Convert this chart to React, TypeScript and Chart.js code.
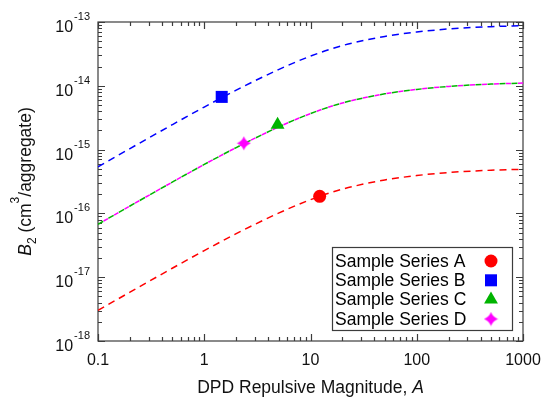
import React, { useEffect, useRef } from 'react';
import { Chart, registerables } from 'chart.js';
import { drawPoint } from 'chart.js/helpers';

Chart.register(...registerables);

// ---------- data ----------
const xValues = [0.1, 0.2, 0.5, 1, 2, 5, 10, 20, 50, 100, 200, 500, 1000];
const fitA = [3.02e-18, 5.83e-18, 1.38e-17, 2.61e-17, 4.81e-17, 1.009e-16, 1.64e-16, 2.4e-16, 3.34e-16, 3.92e-16, 4.38e-16, 4.75e-16, 4.92e-16];
const fitB = [5.37e-16, 1.038e-15, 2.455e-15, 4.645e-15, 8.55e-15, 1.795e-14, 2.917e-14, 4.276e-14, 5.94e-14, 6.97e-14, 7.78e-14, 8.45e-14, 8.75e-14];
const fitC = [6.76e-17, 1.306e-16, 3.09e-16, 5.85e-16, 1.076e-15, 2.26e-15, 3.67e-15, 5.38e-15, 7.48e-15, 8.77e-15, 9.79e-15, 1.064e-14, 1.102e-14];
const fitD = [6.76e-17, 1.306e-16, 3.09e-16, 5.85e-16, 1.076e-15, 2.26e-15, 3.67e-15, 5.38e-15, 7.48e-15, 8.77e-15, 9.79e-15, 1.064e-14, 1.102e-14];

const seriesLabels = ['Sample Series A', 'Sample Series B', 'Sample Series C', 'Sample Series D'];
const pointX = [12.2, 1.46, 4.9, 2.36];
const pointY = [1.85e-16, 6.7e-15, 2.45e-15, 1.26e-15];

const xTickValues = [0.1, 1, 10, 100, 1000];
const xTickLabels = ['0.1', '1', '10', '100', '1000'];
const yTickExponents = [-18, -17, -16, -15, -14, -13];

const xTitle = 'DPD Repulsive Magnitude, ';
const xTitleItalic = 'A';

const FONT = '"Liberation Sans", Arial, Helvetica, sans-serif';
const COLORS = ['#ff0000', '#0000ff', '#00b400', '#ff00ff'];

function makeStar(color: string) {
  const c = document.createElement('canvas');
  c.width = 15;
  c.height = 15;
  const g = c.getContext('2d')!;
  g.fillStyle = color;
  g.beginPath();
  const cx = 7.5, cy = 7.5, R = 7, k = 1.9;
  const tips = [[0, -R], [R, 0], [0, R], [-R, 0]];
  const ctrl = [[k, -k], [k, k], [-k, k], [-k, -k]];
  g.moveTo(cx + tips[0][0], cy + tips[0][1]);
  for (let i = 0; i < 4; i++) {
    const n = tips[(i + 1) % 4];
    g.quadraticCurveTo(cx + ctrl[i][0], cy + ctrl[i][1], cx + n[0], cy + n[1]);
  }
  g.closePath();
  g.fill();
  return c;
}

export default function App() {
  const ref = useRef<HTMLCanvasElement>(null);

  useEffect(() => {
    const canvas = ref.current!;
    const star = makeStar(COLORS[3]);
    const pointStyles: any[] = ['circle', 'rect', 'triangle', star];
    const pointRadii = [6.5, 8.5, 8, 7];

    const markerSets = seriesLabels.map((label, i) => ({
      label,
      data: [{ x: pointX[i], y: pointY[i] }],
      showLine: false,
      pointStyle: pointStyles[i],
      pointRadius: pointRadii[i],
      pointBorderWidth: 0,
      backgroundColor: COLORS[i],
      borderColor: COLORS[i],
      order: i,
    }));

    const fits = [fitA, fitB, fitD, fitC];
    const fitColors = [COLORS[0], COLORS[1], COLORS[3], COLORS[2]];
    const dashes = [[7, 5], [7, 5], [5, 7], [6, 6]];
    const offsets = [0, 0, -6.5, 0];
    const lineSets = fits.map((arr, i) => ({
      label: 'fit' + i,
      data: xValues.map((x, j) => ({ x, y: arr[j] })),
      showLine: true,
      pointRadius: 0,
      borderColor: fitColors[i],
      backgroundColor: fitColors[i],
      borderWidth: 1.5,
      borderDash: dashes[i],
      borderDashOffset: offsets[i],
      cubicInterpolationMode: 'monotone',
      order: 10 + i,
    }));

    const framePlugin = {
      id: 'framePlugin',
      beforeDatasetsDraw(chart: any) {
        const { ctx, chartArea: a, scales } = chart;
        const xs = scales.x, ys = scales.y;
        ctx.save();
        ctx.strokeStyle = '#3c3c3c';
        ctx.lineWidth = 1.2;
        ctx.beginPath();
        for (let e = -1; e <= 3; e++) {
          for (let m = 1; m <= 9; m++) {
            const v = m * Math.pow(10, e);
            if (v > 1000.0001) break;
            const px = Math.round(xs.getPixelForValue(v)) + 0.5;
            const len = m === 1 ? 7 : 4;
            ctx.moveTo(px, a.bottom);
            ctx.lineTo(px, a.bottom - len);
            ctx.moveTo(px, a.top);
            ctx.lineTo(px, a.top + len);
          }
        }
        for (let e = -18; e <= -13; e++) {
          for (let m = 1; m <= 9; m++) {
            const v = m * Math.pow(10, e);
            if (v > 1.0001e-13) break;
            const py = Math.round(ys.getPixelForValue(v)) + 0.5;
            const len = m === 1 ? 7 : 4;
            ctx.moveTo(a.left, py);
            ctx.lineTo(a.left + len, py);
            ctx.moveTo(a.right, py);
            ctx.lineTo(a.right - len, py);
          }
        }
        ctx.stroke();
        ctx.strokeRect(a.left, a.top, a.right - a.left, a.bottom - a.top);

        // tick labels
        ctx.fillStyle = '#111';
        ctx.textBaseline = 'alphabetic';
        ctx.font = `16px ${FONT}`;
        ctx.textAlign = 'center';
        xTickValues.forEach((v, i) => {
          ctx.fillText(xTickLabels[i], xs.getPixelForValue(v), 365);
        });
        ctx.textAlign = 'left';
        yTickExponents.forEach((e) => {
          const py = ys.getPixelForValue(Math.pow(10, e));
          ctx.font = `16px ${FONT}`;
          const wb = ctx.measureText('10').width;
          ctx.font = `11px ${FONT}`;
          const we = ctx.measureText(String(e)).width;
          const x0 = 90 - we - wb - 1;
          ctx.font = `16px ${FONT}`;
          ctx.fillText('10', x0, py + 10);
          ctx.font = `11px ${FONT}`;
          ctx.fillText(String(e), x0 + wb + 1, py - 2);
        });

        // x title
        ctx.font = `17.5px ${FONT}`;
        const w1 = ctx.measureText(xTitle).width;
        ctx.font = `italic 17.5px ${FONT}`;
        const w2 = ctx.measureText(xTitleItalic).width;
        const cx = (a.left + a.right) / 2;
        const tx = cx - (w1 + w2) / 2;
        ctx.font = `17.5px ${FONT}`;
        ctx.fillText(xTitle, tx, 393);
        ctx.font = `italic 17.5px ${FONT}`;
        ctx.fillText(xTitleItalic, tx + w1, 393);

        // y title (rotated)
        const parts: [string, string, number][] = [
          ['B', `italic 17.5px ${FONT}`, 0],
          ['2', `12px ${FONT}`, 5],
          [' (cm', `17.5px ${FONT}`, 0],
          ['3', `12px ${FONT}`, -12],
          ['/aggregate)', `17.5px ${FONT}`, 0],
        ];
        let total = 0;
        const widths = parts.map(([t, f]) => {
          ctx.font = f;
          const w = ctx.measureText(t).width;
          total += w;
          return w;
        });
        ctx.save();
        ctx.translate(31, (a.top + a.bottom) / 2);
        ctx.rotate(-Math.PI / 2);
        let px = -total / 2;
        parts.forEach(([t, f, dy], i) => {
          ctx.font = f;
          ctx.fillText(t, px, dy);
          px += widths[i];
        });
        ctx.restore();
        ctx.restore();
      },
      afterDraw(chart: any) {
        const { ctx } = chart;
        ctx.save();
        ctx.fillStyle = '#fff';
        ctx.fillRect(332.5, 247.5, 180, 83);
        ctx.strokeStyle = '#3c3c3c';
        ctx.lineWidth = 1.2;
        ctx.strokeRect(332.5, 247.5, 180, 83);
        const rows = [261, 280.3, 299.6, 319];
        ctx.font = `17.5px ${FONT}`;
        ctx.textBaseline = 'middle';
        ctx.textAlign = 'left';
        seriesLabels.forEach((label, i) => {
          ctx.fillStyle = '#000';
          ctx.fillText(label, 335, rows[i] + 1);
          ctx.fillStyle = COLORS[i];
          ctx.strokeStyle = COLORS[i];
          drawPoint(ctx, { pointStyle: pointStyles[i], radius: pointRadii[i], borderWidth: 0, rotation: 0 } as any, 491, rows[i]);
        });
        ctx.restore();
      },
    };

    const chart = new Chart(canvas, {
      type: 'scatter',
      data: { datasets: [...markerSets, ...lineSets] as any },
      options: {
        responsive: false,
        animation: false,
        devicePixelRatio: 1,
        layout: { padding: { left: 98, top: 22, right: 20, bottom: 59 } },
        plugins: { legend: { display: false }, tooltip: { enabled: false } },
        scales: {
          x: { type: 'logarithmic', min: 0.1, max: 1000, display: false },
          y: { type: 'logarithmic', min: 1e-18, max: 1e-13, display: false },
        },
      } as any,
      plugins: [framePlugin],
    });
    return () => chart.destroy();
  }, []);

  return (
    <div style={{ position: 'fixed', left: 0, top: 0, width: 543, height: 400, background: '#fff' }}>
      <canvas ref={ref} width={543} height={400} style={{ display: 'block' }} />
    </div>
  );
}
